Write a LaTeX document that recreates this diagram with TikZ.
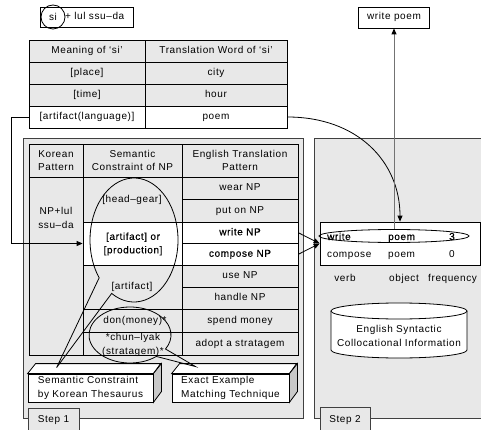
\documentclass[tikz,border=0pt]{standalone}
\usepackage{fontspec}
\setmainfont{Liberation Sans}[LetterSpace=6]
\newfontfamily\emfont{Liberation Sans}[LetterSpace=6,FakeBold=0.5]
\usetikzlibrary{arrows.meta,calc,shapes.geometric}
\definecolor{cellgray}{RGB}{232,232,232}
\definecolor{facegray}{RGB}{200,200,200}
\tikzset{
  tcell/.style={draw=black, line width=0.8pt, inner sep=0pt, fill=cellgray, align=center},
  wcell/.style={tcell, fill=white},
  one/.style={text height=7.2pt, text depth=2.2pt},
  txt/.style={inner sep=0pt, align=center},
  arr/.style={line width=0.8pt, -{Triangle[length=6pt,width=5pt]}},
  grayarr/.style={line width=1pt, draw=black!55, -{Triangle[length=6pt,width=5pt,color=black]}},
  panel/.style={draw=black!75, line width=0.8pt, fill=cellgray, inner sep=0pt},
  boxline/.style={line width=0.8pt},
}
\begin{document}
\begin{tikzpicture}[x=1pt, y=-1pt, font=\fontsize{10pt}{13.5pt}\selectfont]
\useasboundingbox (0,0) rectangle (481,430);
\clip (0,0) rectangle (481,430);

% panels
\node[panel, minimum width=280pt, minimum height=280pt] (p1) at (163,278) {};
\node[panel, minimum width=176pt, minimum height=280pt] (p2) at (402,278) {};
\node[panel, one, minimum width=51pt, minimum height=24pt] (tab1) at (53.5,420) {Step 1};
\node[panel, one, minimum width=50pt, minimum height=24pt] (tab2) at (345,419.5) {Step 2};

% top pattern box
\node[draw, boxline, fill=white, minimum width=93pt, minimum height=20pt, inner sep=0pt] (topbox) at (86.5,17) {};
\node[circle, draw, boxline, minimum size=24pt, inner sep=0pt] (sic) at (53,17) {si};
\node[anchor=west, inner sep=0pt, one] (toptx) at (65,17) {+ lul ssu–da};

% write poem box
\node[draw, boxline, fill=white, minimum width=71pt, minimum height=21pt, inner sep=0pt, one] (wpbox) at (394,17.5) {write poem};

% top table
\node[tcell, one, minimum width=116pt, minimum height=22pt] (m0) at (87,51) {Meaning of ‘si’};
\node[tcell, one, minimum width=142pt, minimum height=22pt] (t0) at (216,51) {Translation Word of ‘si’};
\node[tcell, one, minimum width=116pt, minimum height=22pt] (m1) at (87,73) {[place]};
\node[tcell, one, minimum width=142pt, minimum height=22pt] (t1) at (216,73) {city};
\node[tcell, one, minimum width=116pt, minimum height=22pt] (m2) at (87,95) {[time]};
\node[tcell, one, minimum width=142pt, minimum height=22pt] (t2) at (216,95) {hour};
\node[wcell, one, minimum width=116pt, minimum height=22pt] (m3) at (87,117) {[artifact(language)]};
\node[wcell, one, minimum width=142pt, minimum height=22pt] (t3) at (216,117) {poem};

% step 1 table header
\node[tcell, minimum width=54pt, minimum height=33pt] (k0) at (56,160.5) {Korean\\Pattern};
\node[tcell, minimum width=99pt, minimum height=33pt] (s0) at (132.5,160.5) {Semantic\\Constraint of NP};
\node[tcell, minimum width=116pt, minimum height=33pt] (e0) at (240,160.5) {English Translation\\Pattern};
% column 1
\node[tcell, minimum width=54pt, minimum height=178pt] (k1) at (56,266) {};
% column 2
\node[tcell, minimum width=99pt, minimum height=45pt] (s1) at (132.5,199.5) {};
\node[wcell, minimum width=99pt, minimum height=43pt] (s2) at (132.5,243.5) {};
\node[tcell, minimum width=99pt, minimum height=44pt] (s3) at (132.5,287) {};
\node[tcell, minimum width=99pt, minimum height=23pt] (s4) at (132.5,320.5) {};
\node[tcell, minimum width=99pt, minimum height=23pt] (s5) at (132.5,343.5) {};
% column 3
\node[tcell, one, minimum width=116pt, minimum height=22pt] (e1) at (240,188) {wear NP};
\node[tcell, one, minimum width=116pt, minimum height=23pt] (e2) at (240,210.5) {put on NP};
\node[wcell, one, minimum width=116pt, minimum height=21.5pt] (e3) at (240,232.75) {\emfont write NP};
\node[wcell, one, minimum width=116pt, minimum height=21.5pt] (e4) at (240,254.25) {\emfont compose NP};
\node[tcell, one, minimum width=116pt, minimum height=22pt] (e5) at (240,276) {use NP};
\node[tcell, one, minimum width=116pt, minimum height=22pt] (e6) at (240,298) {handle NP};
\node[tcell, one, minimum width=116pt, minimum height=23pt] (e7) at (240,320.5) {spend money};
\node[tcell, one, minimum width=116pt, minimum height=23pt] (e8) at (240,343.5) {adopt a stratagem};

% 3D boxes
\node[draw, boxline, fill=white, minimum width=125pt, minimum height=28pt, inner sep=0pt, align=left] (sembox) at (90.5,388) {Semantic Constraint\\by Korean Thesaurus};
\draw[boxline, fill=white] (sembox.north west) -- ++(8,-10) -- ++(125,0) -- (sembox.north east) -- cycle;
\draw[boxline, fill=facegray] (sembox.north east) -- ++(8,-10) -- ++(0,28) -- (sembox.south east) -- cycle;
\node[draw, boxline, fill=white, minimum width=117pt, minimum height=28pt, inner sep=0pt, align=left] (exbox) at (230.5,388) {Exact Example\\Matching Technique};
\draw[boxline, fill=white] (exbox.north west) -- ++(8,-10) -- ++(117,0) -- (exbox.north east) -- cycle;
\draw[boxline, fill=facegray] (exbox.north east) -- ++(8,-10) -- ++(0,28) -- (exbox.south east) -- cycle;

% callout bubbles
\coordinate (semtip) at ($(sembox.north west)+(29,-6)$);
\coordinate (extip) at ($(exbox.north west)+(24,-7)$);
\draw[boxline] (134,240) ++(120.5:44 and 62) arc[start angle=120.5, end angle=-217.6, x radius=44, y radius=62] -- (semtip) -- cycle;
\draw[boxline] (130,335) ++(50:41 and 28) arc[start angle=50, end angle=390, x radius=41, y radius=28] -- (extip) -- cycle;

% column 1 / 2 texts
\node[txt] (kt) at (56,218) {NP+lul\\ssu–da};
\node[txt, one] (hg) at (132,200) {[head–gear]};
\node[txt] (ap) at (133,244) {\emfont [artifact] or\\\emfont [production]};
\node[txt, one] (af) at (132,287) {[artifact]};
\node[txt, one] (dm) at (135,320.5) {don(money)*};
\node[txt] (cl) at (133,345) {*chun–lyak\\(stratagem)*};

% step 2 contents
\node[draw, boxline, fill=white, minimum width=160pt, minimum height=43pt, inner sep=0pt] (colbox) at (400,243.5) {};
\node[anchor=base west, inner sep=0pt] (w1) at (327,240) {\emfont write};
\node[anchor=base west, inner sep=0pt] (o1) at (388,240) {\emfont poem};
\node[anchor=base, inner sep=0pt] (f1) at (452,240) {\emfont 3};
\node[anchor=base west, inner sep=0pt] (w2) at (327,257) {compose};
\node[anchor=base west, inner sep=0pt] (o2) at (388,257) {poem};
\node[anchor=base, inner sep=0pt] (f2) at (452,257) {0};
\node[ellipse, draw, boxline, minimum width=150pt, minimum height=13pt, inner sep=0pt] (hl) at (394,236) {};
\node[anchor=base, inner sep=0pt] (lv) at (345,281) {verb};
\node[anchor=base west, inner sep=0pt] (lo) at (389,281) {object};
\node[anchor=base west, inner sep=0pt] (lf) at (428,281) {frequency};

% database cylinder
\draw[boxline, fill=white] (331,311) -- (331,350) arc[start angle=180, end angle=0, x radius=68, y radius=8] -- (467,311);
\draw[boxline, fill=white] (399,311) ellipse[x radius=68, y radius=8];
\node[txt] (db) at (399,336) {English Syntactic\\Collocational Information};

% connectors
\draw[arr] (m3.west) -- ++(-17,0) |- (s2.west);
\draw[arr] (t3.east) .. controls +(70,0) and +(0,-60) .. (colbox.north);
\draw[arr] (e3.east) -- (colbox.west);
\draw[arr] (e4.east) -- (colbox.west);
\draw[grayarr] (hl.north) -- (wpbox.south);
\end{tikzpicture}
\end{document}
